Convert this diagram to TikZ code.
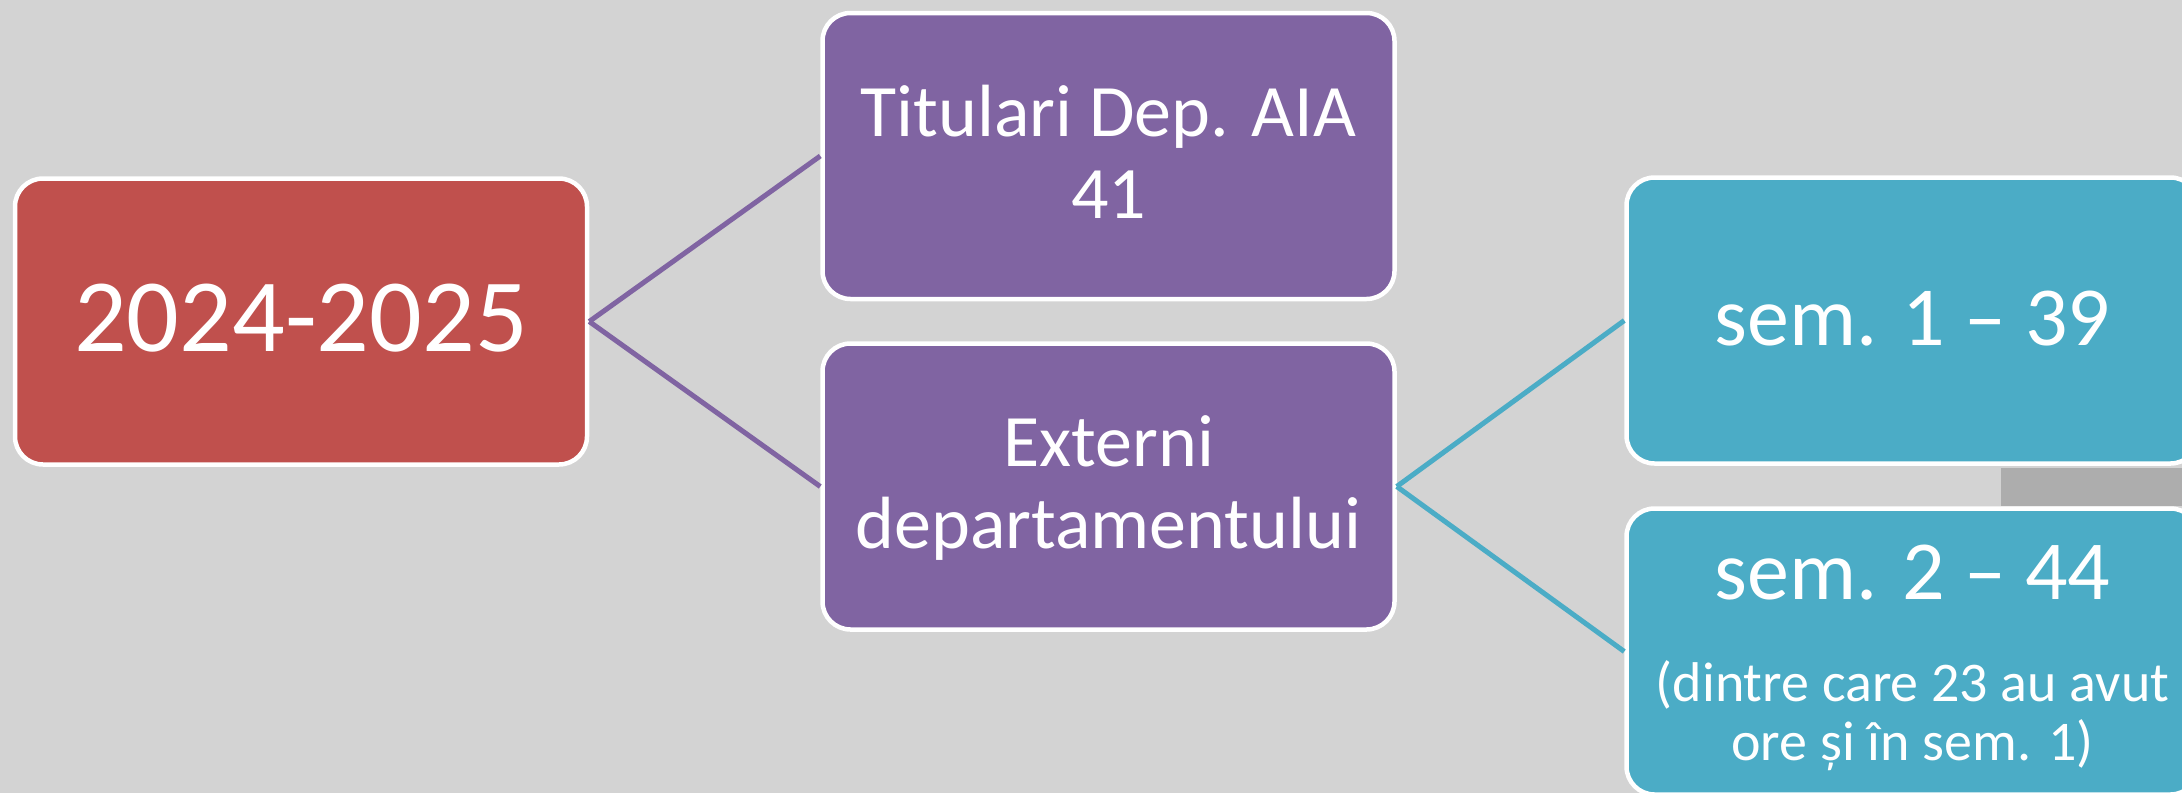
\documentclass[tikz,border=0pt]{standalone}
\usepackage{fontspec}
\setmainfont{Carlito}
\definecolor{bg}{HTML}{D3D3D3}
\definecolor{redbox}{HTML}{C0504D}
\definecolor{purplebox}{HTML}{8064A2}
\definecolor{cyanbox}{HTML}{4BACC6}
\definecolor{graybar}{HTML}{ADADAD}
\begin{document}
\begin{tikzpicture}[x=1pt,y=-1pt,
  box/.style={draw=white, line width=4.5pt, rounded corners=28pt,
    minimum width=572pt, minimum height=286pt, inner sep=0pt},
  txt/.style={anchor=base, inner sep=0pt, text=white},
  big/.style={txt, font=\fontsize{104}{104}\selectfont},
  mid/.style={txt, font=\fontsize{74}{82}\selectfont},
  sem/.style={txt, font=\fontsize{84}{84}\selectfont},
  small/.style={txt, font=\fontsize{56}{60}\selectfont},
  pline/.style={draw=purplebox, line width=5pt},
  cline/.style={draw=cyanbox, line width=5pt}]
\useasboundingbox (0,0) rectangle (2182,793);
\clip (0,0) rectangle (2182,793);
\fill[bg] (0,0) rectangle (2182,793);
\fill[graybar] (2001,468) rectangle (2182,506);

\node[box, fill=redbox] (red) at (301,321.5) {};
\node[box, fill=purplebox] (pt) at (1108.5,156) {};
\node[box, fill=purplebox] (pb) at (1108.5,486.5) {};
\node[box, fill=cyanbox] (ct) at (1912.5,320.5) {};
\node[box, fill=cyanbox] (cb) at (1912.5,651.5) {};

\draw[pline] (red.east) -- (pt.west);
\draw[pline] (red.east) -- (pb.west);
\draw[cline] (pb.east) -- (ct.west);
\draw[cline] (pb.east) -- (cb.west);

\node[big] (t1) at (301,351) {2024-2025};
\node[mid] (t2) at (1108.5,136) {Titulari Dep. AIA};
\node[mid] (t3) at (1108.5,218) {41};
\node[mid] (t4) at (1108.5,466) {Externi};
\node[mid] (t5) at (1108.5,548) {departamentului};
\node[sem] (t6) at (1912.5,345) {sem. 1 – 39};
\node[sem] (t7) at (1912.5,599) {sem. 2 – 44};
\node[small] (t8) at (1912.5,701) {(dintre care 23 au avut};
\node[small] (t9) at (1912.5,760) {ore și în sem. 1)};
\end{tikzpicture}
\end{document}
